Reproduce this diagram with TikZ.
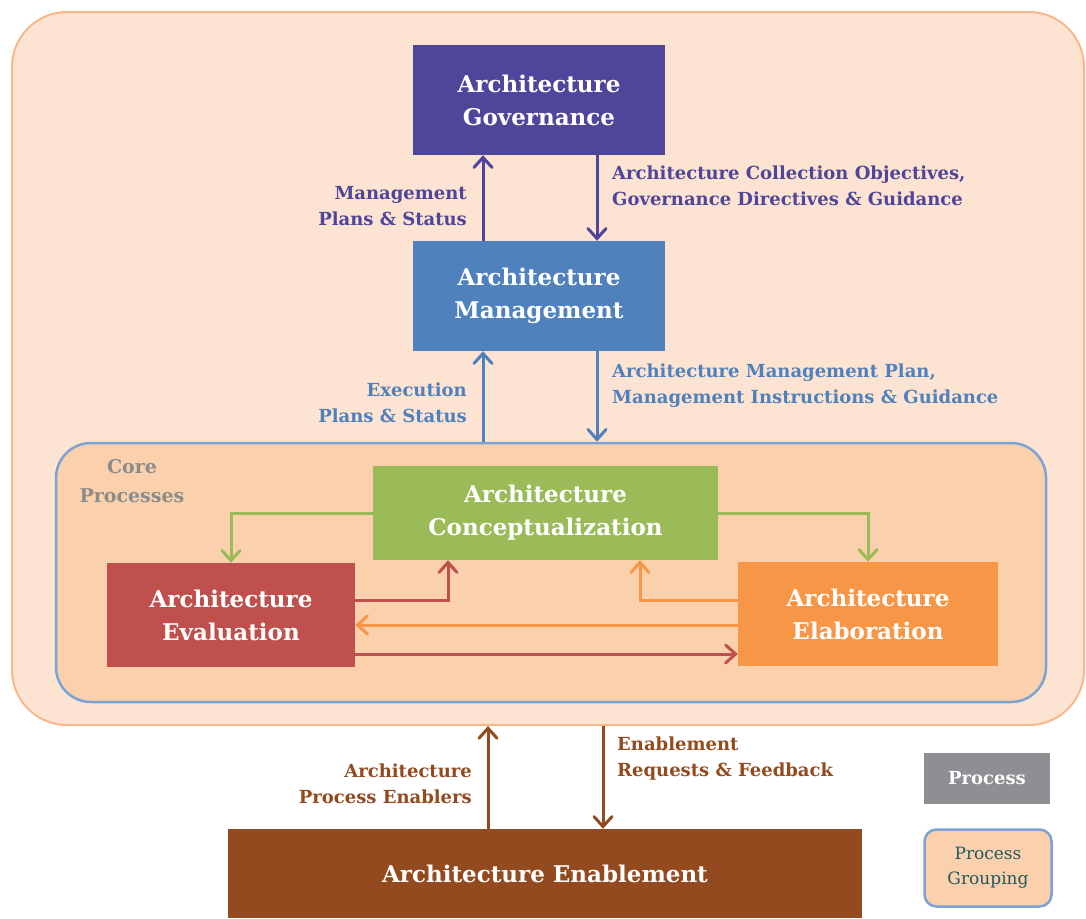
\documentclass[tikz,border=0pt]{standalone}
\usepackage{fontspec}
\setmainfont{DejaVu Serif}
\usetikzlibrary{arrows.meta}
\definecolor{outerfill}{HTML}{FDE4D2}
\definecolor{outerdraw}{HTML}{F8B88B}
\definecolor{corefill}{HTML}{FBD0AC}
\definecolor{coredraw}{HTML}{7BA3D3}
\definecolor{govc}{HTML}{4F469B}
\definecolor{mgmtc}{HTML}{4F81BD}
\definecolor{conceptc}{HTML}{9BBB59}
\definecolor{evalc}{HTML}{C0504D}
\definecolor{elabc}{HTML}{F79646}
\definecolor{enabc}{HTML}{934A1F}
\definecolor{legendgray}{HTML}{8E8E93}
\definecolor{coretext}{HTML}{8C8C8C}
\definecolor{grouptext}{HTML}{215A5E}
\tikzset{
  procbox/.style={inner sep=0pt, text=white, font=\bfseries\fontsize{23}{33}\selectfont, align=center},
  arr/.style={line width=3pt, -{Straight Barb[length=10pt,width=18pt,line cap=round]}},
  lbl/.style={inner sep=0pt, font=\bfseries\fontsize{18}{26}\selectfont},
}
\begin{document}
\begin{tikzpicture}[x=1pt,y=-1pt]
\useasboundingbox (0,0) rectangle (1086,918);
% outer grouping
\node[draw=outerdraw, fill=outerfill, line width=2pt, rounded corners=55pt,
      minimum width=1072pt, minimum height=713pt] (outer) at (548,368.5) {};
% core grouping
\node[draw=coredraw, fill=corefill, line width=2.5pt, rounded corners=35pt,
      minimum width=990pt, minimum height=259pt] (core) at (551,572.5) {};
\node[lbl, text=coretext, align=center, font=\bfseries\fontsize{19}{29}\selectfont] (corelbl) at (132,481) {Core\\Processes};
% process boxes
\node[procbox, fill=govc, minimum width=252pt, minimum height=110pt] (gov) at (539,100) {Architecture\\Governance};
\node[procbox, fill=mgmtc, minimum width=252pt, minimum height=110pt] (mgmt) at (539,296) {Architecture\\Management};
\node[procbox, fill=conceptc, minimum width=345pt, minimum height=94pt] (concept) at (545.5,513) {Architecture\\Conceptualization};
\node[procbox, fill=evalc, minimum width=248pt, minimum height=104pt] (eval) at (231,615) {Architecture\\Evaluation};
\node[procbox, fill=elabc, minimum width=260pt, minimum height=104pt] (elab) at (868,614) {Architecture\\Elaboration};
\node[procbox, fill=enabc, minimum width=634pt, minimum height=89pt] (enab) at (545,873.5) {Architecture Enablement};
% legend
\node[procbox, fill=legendgray, minimum width=126pt, minimum height=51pt, font=\bfseries\fontsize{18}{24}\selectfont] (legproc) at (987,778.5) {Process};
\node[draw=coredraw, fill=corefill, line width=2.5pt, rounded corners=12pt, minimum width=127pt, minimum height=77pt,
      text=grouptext, align=center, font=\fontsize{17}{25}\selectfont] (leggroup) at (988,868) {Process\\Grouping};
% x / y helpers
\coordinate (xL) at (483,0);
\coordinate (xR) at (597,0);
\coordinate (xEL) at (488,0);
\coordinate (xER) at (603,0);
\coordinate (xRed) at (448,0);
\coordinate (xOr) at (640,0);
\coordinate (yA) at (0,600);
\coordinate (yB) at (0,625);
\coordinate (yC) at (0,654);
% governance <-> management
\draw[arr, govc] (mgmt.north -| xL) -- (gov.south -| xL);
\draw[arr, govc] (gov.south -| xR) -- (mgmt.north -| xR);
\node[lbl, text=govc, anchor=east, align=right] (l1) at (467,206) {Management\\Plans \& Status};
\node[lbl, text=govc, anchor=west, align=left] (l2) at (612,185.5) {Architecture Collection Objectives,\\Governance Directives \& Guidance};
% management <-> core
\draw[arr, mgmtc] (core.north -| xL) -- (mgmt.south -| xL);
\draw[arr, mgmtc] (mgmt.south -| xR) -- (core.north -| xR);
\node[lbl, text=mgmtc, anchor=east, align=right] (l3) at (467,403) {Execution\\Plans \& Status};
\node[lbl, text=mgmtc, anchor=west, align=left] (l4) at (612,386) {Architecture Management Plan,\\Management Instructions \& Guidance};
% core internal arrows
\draw[arr, conceptc] (concept.west) -| (eval.north);
\draw[arr, conceptc] (concept.east) -| (elab.north);
\draw[arr, evalc] (eval.east |- yA) -| (xRed |- concept.south);
\draw[arr, elabc] (elab.west |- yA) -| (xOr |- concept.south);
\draw[arr, elabc] (elab.west |- yB) -- (eval.east |- yB);
\draw[arr, evalc] (eval.east |- yC) -- (elab.west |- yC);
% enablement
\draw[arr, enabc] (enab.north -| xEL) -- (outer.south -| xEL);
\draw[arr, enabc] (outer.south -| xER) -- (enab.north -| xER);
\node[lbl, text=enabc, anchor=east, align=right] (l5) at (472,784) {Architecture\\Process Enablers};
\node[lbl, text=enabc, anchor=west, align=left] (l6) at (617,759) {Enablement\\Requests \& Feedback};
\end{tikzpicture}
\end{document}
